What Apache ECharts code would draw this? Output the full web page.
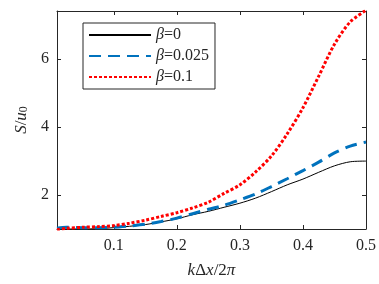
<!DOCTYPE html>
<html>
<head>
<meta charset="utf-8">
<script src="https://cdn.jsdelivr.net/npm/echarts@6/dist/echarts.min.js"></script>
<style>html,body{margin:0;padding:0;background:#fff;}#c{width:379px;height:284px;}</style>
</head>
<body>
<div id="c"></div>
<script>
var xs = [0.01,0.025,0.05,0.075,0.1,0.125,0.15,0.175,0.2,0.225,0.25,0.275,0.3,0.325,0.35,0.375,0.4,0.425,0.45,0.475,0.5];
var beta0 = [1.00,1.00,1.00,1.01,1.04,1.08,1.13,1.21,1.30,1.42,1.52,1.64,1.76,1.91,2.10,2.30,2.47,2.67,2.86,2.98,3.00];
var beta025 = [1.02,1.05,1.04,1.04,1.05,1.09,1.14,1.22,1.32,1.45,1.58,1.70,1.86,2.03,2.25,2.48,2.72,2.97,3.24,3.44,3.56];
var beta01 = [0.98,1.02,1.05,1.07,1.10,1.17,1.26,1.37,1.48,1.62,1.79,2.05,2.30,2.68,3.15,3.80,4.57,5.50,6.44,7.10,7.44];
var xTicks = [0.1,0.2,0.3,0.4,0.5];
var yTicks = [2,4,6];
var names = ['β=0','β=0.025','β=0.1'];

function pairs(ys){ return xs.map(function(x,i){ return [x, ys[i]]; }); }
function isTick(list, v){ return list.some(function(t){ return Math.abs(t - v) < 1e-6; }); }
var FONT = 'Liberation Serif';
var AX = '#262626';
var chart = echarts.init(document.getElementById('c'));
var baseX = {
  type:'value', min:0.01, max:0.5, interval:0.01,
  axisLine:{show:true, lineStyle:{color:AX, width:1}},
  splitLine:{show:false}
};
var baseY = {
  type:'value', min:1, max:7.42, interval:1,
  axisLine:{show:true, lineStyle:{color:AX, width:1}},
  splitLine:{show:false}
};
chart.setOption({
  animation:false,
  backgroundColor:'#fff',
  grid:{left:57, right:12.5, top:11, bottom:53, show:false},
  legend:{
    data:names, orient:'vertical', left:83, top:23,
    padding:[4,6,4,5], itemGap:5, itemWidth:62, itemHeight:14,
    backgroundColor:'#fff', borderColor:AX, borderWidth:1,
    itemStyle:{opacity:0},
    textStyle:{fontFamily:FONT, fontSize:16, color:AX, lineHeight:14,
      rich:{i:{fontFamily:FONT, fontStyle:'italic', fontSize:16, color:AX}}},
    formatter:function(n){ return '{i|β}=' + n.split('=')[1]; }
  },
  xAxis:[
    Object.assign({}, baseX, {
      position:'bottom',
      axisTick:{show:true, inside:true, length:4, lineStyle:{color:AX}, customValues:xTicks},
      axisLabel:{show:true, fontFamily:FONT, fontSize:16, color:AX, margin:9, showMinLabel:true, showMaxLabel:true,
        formatter:function(v){ return isTick(xTicks, v) ? v.toFixed(1) : ''; }},
      name:'{i|k}Δ{i|x}/2{i|π}', nameLocation:'middle', nameGap:33,
      nameTextStyle:{fontFamily:FONT, fontSize:17, color:AX,
        rich:{i:{fontFamily:FONT, fontStyle:'italic', fontSize:17, color:AX}}}
    }),
    Object.assign({}, baseX, {
      position:'top',
      axisTick:{show:true, inside:true, length:4, lineStyle:{color:AX}, customValues:xTicks},
      axisLabel:{show:false}
    })
  ],
  yAxis:[
    Object.assign({}, baseY, {
      position:'left',
      axisTick:{show:true, inside:true, length:4, lineStyle:{color:AX}, customValues:yTicks},
      axisLabel:{show:true, fontFamily:FONT, fontSize:16, color:AX, margin:8,
        formatter:function(v){ return isTick(yTicks, v) ? String(Math.round(v)) : ''; }},
      name:'{i|S}/{i|u}{s|0}', nameLocation:'middle', nameGap:24, nameRotate:90,
      nameTextStyle:{fontFamily:FONT, fontSize:17, color:AX,
        rich:{i:{fontFamily:FONT, fontStyle:'italic', fontSize:17, color:AX},
              s:{fontFamily:FONT, fontSize:12, color:AX, verticalAlign:'bottom', padding:[6,0,0,0]}}}
    }),
    Object.assign({}, baseY, {
      position:'right',
      axisTick:{show:true, inside:true, length:4, lineStyle:{color:AX}, customValues:yTicks},
      axisLabel:{show:false}
    })
  ],
  series:[
    {name:names[0], type:'line', data:pairs(beta0), smooth:0.3, symbol:'none',
     lineStyle:{color:'#000', width:1, type:'solid'}, itemStyle:{color:'#000'}},
    {name:names[1], type:'line', data:pairs(beta025), smooth:0.3, symbol:'none',
     lineStyle:{color:'#0072BD', width:3, type:[12,7]}, itemStyle:{color:'#0072BD'}},
    {name:names[2], type:'line', data:pairs(beta01), smooth:0.3, symbol:'none',
     lineStyle:{color:'#ff0000', width:3, type:[3,2]}, itemStyle:{color:'#ff0000'}}
  ]
});
</script>
</body>
</html>
